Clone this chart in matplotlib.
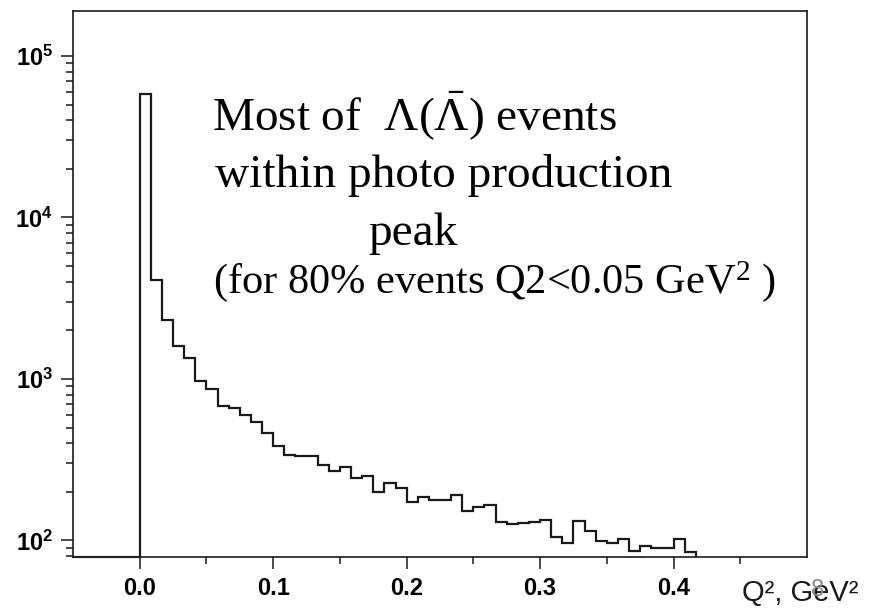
import matplotlib
matplotlib.use('Agg')
import matplotlib.pyplot as plt
import numpy as np

plt.rcParams['font.family'] = ['Liberation Sans', 'DejaVu Sans']
plt.rcParams['mathtext.fontset'] = 'custom'
plt.rcParams['mathtext.rm'] = 'Liberation Serif'
plt.rcParams['mathtext.it'] = 'Liberation Serif:italic'
plt.rcParams['mathtext.bf'] = 'Liberation Sans:bold'
plt.rcParams['mathtext.sf'] = 'Liberation Sans'

# Q^2 histogram: 60 bins on 0..0.5 GeV^2, only the first 50 are filled
n_bins = 60
q2_max = 0.5
counts = [58300, 4090, 2330, 1600, 1350, 976, 867, 683, 661, 595,
          542, 461, 386, 340, 335, 332, 294, 271, 286, 244,
          249, 201, 227, 211, 174, 187, 177, 177, 192, 153,
          162, 165, 130, 127, 129, 130, 133, 105, 97, 132,
          115, 99, 97, 102, 85.5, 91.8, 89.5, 89.5, 102, 85]

x_ticks = [0.0, 0.1, 0.2, 0.3, 0.4]
x_tick_labels = ['0.0', '0.1', '0.2', '0.3', '0.4']
x_minor = [0.05, 0.15, 0.25, 0.35, 0.45]
y_ticks = [1e2, 1e3, 1e4, 1e5]
y_tick_labels = [r'$\mathbf{10^{2}}$', r'$\mathbf{10^{3}}$',
                 r'$\mathbf{10^{4}}$', r'$\mathbf{10^{5}}$']

x_min, x_max = -0.05, 0.5
y_min, y_max = 79, 1.9e5

W, H = 871, 613
fig = plt.figure(figsize=(W / 100, H / 100), dpi=100)
ax = fig.add_axes([73 / W, 1 - 557 / H, (807 - 73) / W, (557 - 11) / H])

bin_width = q2_max / n_bins
edges = np.arange(len(counts) + 1) * bin_width
ax.stairs(counts, edges, baseline=y_min, color='#1a1a1a', lw=1.6)
# empty region left of zero sits on the bottom of the frame
ax.plot([x_min, 0], [y_min, y_min], color='#555555', lw=1.6, clip_on=False)

ax.set_yscale('log')
ax.set_xlim(x_min, x_max)
ax.set_ylim(y_min, y_max)

ax.set_xticks(x_ticks)
ax.set_xticklabels(x_tick_labels, fontweight='bold', fontsize=17)
ax.set_xticks(x_minor, minor=True)
ax.set_yticks(y_ticks)
ax.set_yticklabels(y_tick_labels, fontsize=17)
ax.yaxis.set_minor_locator(matplotlib.ticker.LogLocator(base=10, subs=np.arange(2, 10)))
ax.yaxis.set_minor_formatter(matplotlib.ticker.NullFormatter())

ax.tick_params(which='major', direction='out', length=8.5, width=1.1, pad=6, color='#1a1a1a')
ax.tick_params(which='minor', direction='out', length=5, width=1.1, color='#1a1a1a')
for s in ax.spines.values():
    s.set_linewidth(1.2)
    s.set_color('#1a1a1a')

# annotation text (serif, as on the slide)
def fx(px):
    return px / W

def fy(py):
    return 1 - py / H

fig.text(fx(212), fy(130), r'Most of  $\Lambda(\bar{\Lambda})$ events',
         family='Liberation Serif', fontsize=34, va='baseline')
fig.text(fx(215), fy(187), 'within photo production',
         family='Liberation Serif', fontsize=34, va='baseline')
fig.text(fx(368), fy(245), 'peak',
         family='Liberation Serif', fontsize=34, va='baseline')
fig.text(fx(213), fy(293), r'(for 80% events Q2<0.05 GeV$^{2}$ )',
         family='Liberation Serif', fontsize=30.5, va='baseline')

fig.text(fx(742), fy(601), 'Q², GeV²', fontsize=21, va='baseline', color='#1a1a1a')
fig.text(fx(818), fy(590), '8', fontsize=17, color='#8a8a8a', ha='center', va='center')

fig.savefig('out.png', dpi=100, facecolor='white')
